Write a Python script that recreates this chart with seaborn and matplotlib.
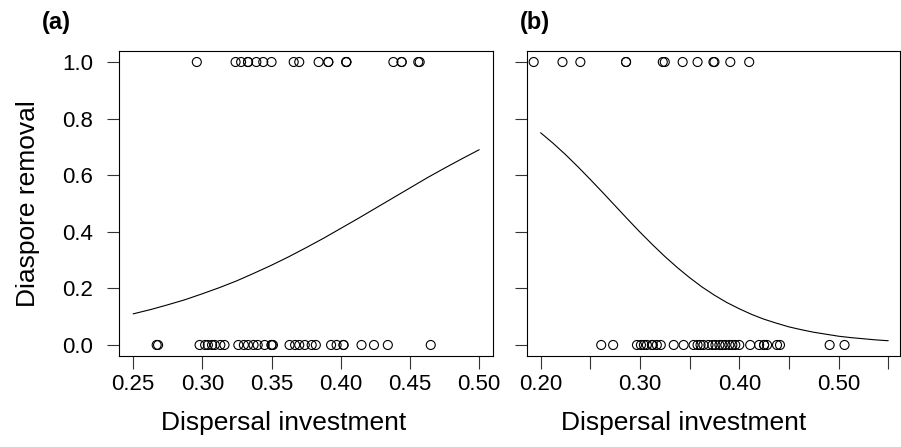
import numpy as np
import pandas as pd
import seaborn as sns
import matplotlib.pyplot as plt
from matplotlib import font_manager

# panel (a): dispersal investment of removed (1) and not removed (0) diaspores
a_removed = [0.296, 0.324, 0.328, 0.333, 0.333, 0.339, 0.344, 0.350, 0.366, 0.370,
             0.384, 0.391, 0.391, 0.404, 0.404, 0.404, 0.438, 0.444, 0.444, 0.456, 0.457]
a_kept = [0.267, 0.268, 0.298, 0.302, 0.304, 0.307, 0.309, 0.313, 0.316, 0.326,
          0.330, 0.333, 0.337, 0.340, 0.345, 0.350, 0.350, 0.351, 0.363, 0.367,
          0.370, 0.374, 0.379, 0.382, 0.393, 0.397, 0.402, 0.402, 0.415, 0.424,
          0.434, 0.465]
# fitted curve (a)
a_curve_x = [0.2500, 0.2625, 0.2750, 0.2875, 0.3000, 0.3125, 0.3250, 0.3375,
             0.3500, 0.3625, 0.3750, 0.3875, 0.4000, 0.4125, 0.4250, 0.4375,
             0.4500, 0.4625, 0.4750, 0.4875, 0.5000]
a_curve_y = [0.110, 0.125, 0.142, 0.160, 0.181, 0.203, 0.227, 0.254,
             0.282, 0.312, 0.344, 0.377, 0.412, 0.447, 0.483, 0.519,
             0.555, 0.591, 0.625, 0.658, 0.690]

# panel (b)
b_removed = [0.193, 0.222, 0.240, 0.286, 0.286, 0.323, 0.325, 0.343, 0.358,
             0.374, 0.375, 0.391, 0.410]
b_kept = [0.261, 0.273, 0.297, 0.301, 0.304, 0.307, 0.312, 0.313, 0.317, 0.321,
          0.334, 0.344, 0.354, 0.358, 0.361, 0.364, 0.369, 0.373, 0.376, 0.380,
          0.383, 0.386, 0.390, 0.393, 0.396, 0.400, 0.411, 0.420, 0.425, 0.425,
          0.428, 0.438, 0.441, 0.491, 0.506]
b_curve_x = [0.2000, 0.2125, 0.2250, 0.2375, 0.2500, 0.2625, 0.2750, 0.2875,
             0.3000, 0.3125, 0.3250, 0.3375, 0.3500, 0.3625, 0.3750, 0.3875,
             0.4000, 0.4125, 0.4250, 0.4375, 0.4500, 0.4625, 0.4750, 0.4875,
             0.5000, 0.5125, 0.5250, 0.5375, 0.5500]
b_curve_y = [0.750, 0.713, 0.673, 0.630, 0.585, 0.539, 0.492, 0.445,
             0.399, 0.355, 0.313, 0.274, 0.238, 0.205, 0.176, 0.150,
             0.128, 0.108, 0.091, 0.077, 0.064, 0.054, 0.045, 0.038,
             0.031, 0.026, 0.022, 0.018, 0.015]

a_ticks = [0.25, 0.30, 0.35, 0.40, 0.45, 0.50]
b_ticks = [0.20, 0.25, 0.30, 0.35, 0.40, 0.45, 0.50, 0.55]
b_ticklabels = ["0.20", "", "0.30", "", "0.40", "", "0.50", ""]
y_ticks = [0.0, 0.2, 0.4, 0.6, 0.8, 1.0]

sns.set_style("ticks")
plt.rcParams['font.family'] = ['Liberation Sans', 'DejaVu Sans']
plt.rcParams.update({'text.color': 'black', 'axes.labelcolor': 'black',
                     'xtick.color': 'black', 'ytick.color': 'black'})

names = {f.name for f in font_manager.fontManager.ttflist}
narrow = 'Liberation Sans Narrow' if 'Liberation Sans Narrow' in names else 'Liberation Sans'


def points(removed, kept):
    return pd.DataFrame({
        'x': list(removed) + list(kept),
        'y': [1.0] * len(removed) + [0.0] * len(kept),
    })


fig = plt.figure(figsize=(9.01, 4.47), dpi=100)
ax_a = fig.add_axes([0.1324, 0.2029, 0.4148, 0.6837])
ax_b = fig.add_axes([0.5846, 0.2029, 0.4138, 0.6837])

panels = [
    (ax_a, points(a_removed, a_kept), a_curve_x, a_curve_y, (0.24, 0.51), a_ticks,
     [f"{t:.2f}" for t in a_ticks], 0.44),
    (ax_b, points(b_removed, b_kept), b_curve_x, b_curve_y, (0.186, 0.5614), b_ticks,
     b_ticklabels, 0.42),
]

for ax, df, cx, cy, xlim, xt, xtl, lab_x in panels:
    sns.scatterplot(data=df, x='x', y='y', ax=ax, marker='o', s=42,
                    facecolor='none', edgecolor='black', linewidth=0.8)
    sns.lineplot(x=cx, y=cy, ax=ax, color='black', linewidth=0.8)
    ax.set_xlim(*xlim)
    ax.set_ylim(-0.04, 1.04)
    ax.set_xticks(xt)
    ax.set_xticklabels(xtl, fontsize=16, family=narrow)
    ax.set_yticks(y_ticks)
    ax.tick_params(direction='out', length=9, width=0.8, color='#333333', pad=4)
    ax.tick_params(axis='y', pad=10)
    for sp in ax.spines.values():
        sp.set_visible(True)
        sp.set_linewidth(0.8)
        sp.set_color('black')
    ax.set_xlabel("Dispersal investment", fontsize=19, family=narrow, labelpad=11)
    ax.xaxis.label.set_x(lab_x)
    ax.set_ylabel("")

ax_a.set_yticklabels([f"{t:.1f}" for t in y_ticks], fontsize=16)
ax_a.set_ylabel("Diaspore removal", fontsize=19, labelpad=16)
ax_b.set_yticklabels([])

fig.text(0.046, 0.935, "(a)", fontsize=17, fontweight='bold')
fig.text(0.577, 0.935, "(b)", fontsize=17, fontweight='bold')

fig.savefig("out.png", dpi=100)
